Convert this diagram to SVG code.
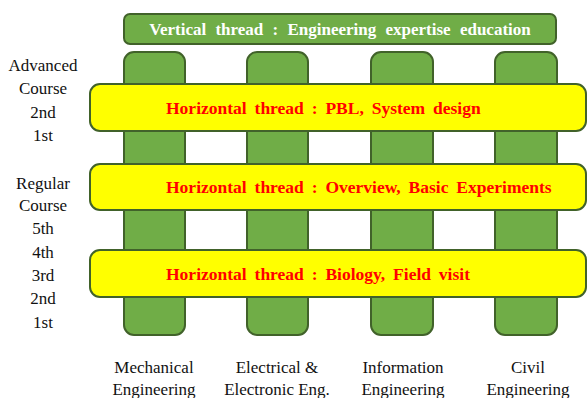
<svg xmlns="http://www.w3.org/2000/svg" width="587" height="398" viewBox="0 0 587 398">
<style>
.g{fill:#70ad47;stroke:#41622a;stroke-width:2}
.y{fill:#ffff00;stroke:#41622a;stroke-width:2}
.wt{font-family:"Liberation Serif","Times New Roman",serif;font-weight:bold;font-size:17px;fill:#ffffff;word-spacing:5px}
.rt{font-family:"Liberation Serif","Times New Roman",serif;font-weight:bold;font-size:17.5px;fill:#ff0000;word-spacing:3.5px}
.lb{font-family:"Liberation Serif","Times New Roman",serif;font-size:17px;fill:#111111;text-anchor:middle}
</style>
<rect width="587" height="398" fill="#ffffff"/>
<g id="vertical-thread">
<rect class="g" x="124" y="14" width="432" height="30" rx="6"/>
<text class="wt" x="340" y="35" text-anchor="middle">Vertical thread : Engineering expertise education</text>
</g>
<g id="col-mech"><rect class="g" x="124" y="52" width="61" height="283" rx="10"/></g>
<g id="col-elec"><rect class="g" x="247" y="52" width="61" height="283" rx="10"/></g>
<g id="col-info"><rect class="g" x="371" y="52" width="62" height="283" rx="10"/></g>
<g id="col-civil"><rect class="g" x="495" y="52" width="62" height="283" rx="10"/></g>
<g id="h-advanced">
<rect class="y" x="90" y="84" width="496" height="47" rx="10"/>
<text class="rt" x="166" y="114">Horizontal thread : PBL, System design</text>
</g>
<g id="h-overview">
<rect class="y" x="90" y="164" width="496" height="46" rx="10"/>
<text class="rt" x="166" y="193">Horizontal thread : Overview, Basic Experiments</text>
</g>
<g id="h-biology">
<rect class="y" x="90" y="250" width="496" height="47" rx="10"/>
<text class="rt" x="166" y="280">Horizontal thread : Biology, Field visit</text>
</g>
<g id="labels-left">
<text class="lb" x="43" y="71">Advanced</text>
<text class="lb" x="43" y="94">Course</text>
<text class="lb" x="43" y="118">2nd</text>
<text class="lb" x="43" y="141">1st</text>
<text class="lb" x="43" y="189">Regular</text>
<text class="lb" x="43" y="211">Course</text>
<text class="lb" x="43" y="234">5th</text>
<text class="lb" x="43" y="258">4th</text>
<text class="lb" x="43" y="281">3rd</text>
<text class="lb" x="43" y="304">2nd</text>
<text class="lb" x="43" y="328">1st</text>
</g>
<g id="labels-bottom">
<text class="lb" x="154" y="373">Mechanical</text>
<text class="lb" x="154" y="395">Engineering</text>
<text class="lb" x="277" y="373">Electrical &amp;</text>
<text class="lb" x="277" y="395">Electronic Eng.</text>
<text class="lb" x="403" y="373">Information</text>
<text class="lb" x="403" y="395">Engineering</text>
<text class="lb" x="528" y="373">Civil</text>
<text class="lb" x="528" y="395">Engineering</text>
</g>
</svg>
